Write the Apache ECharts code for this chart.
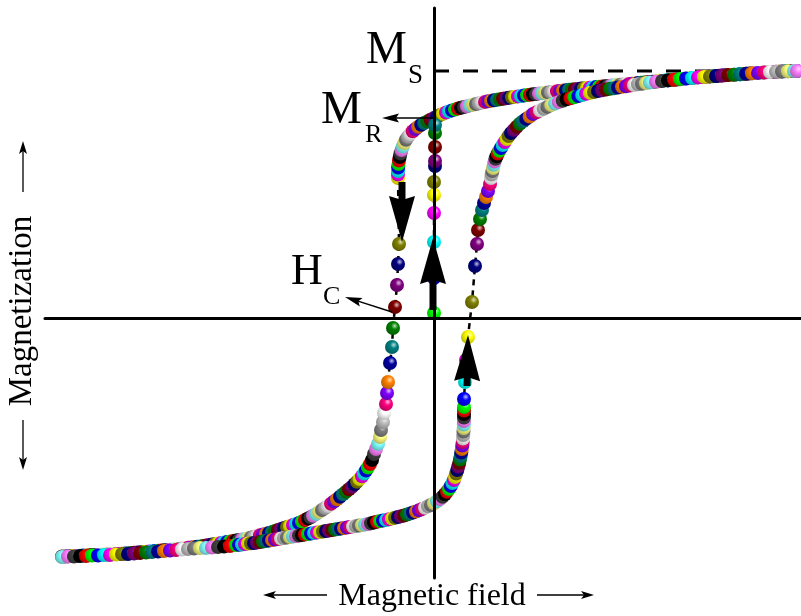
<!DOCTYPE html>
<html><head><meta charset="utf-8">
<script src="https://cdn.jsdelivr.net/npm/echarts@6/dist/echarts.min.js"></script>
<style>html,body{margin:0;padding:0;background:#fff}#c{width:801px;height:616px}</style>
</head><body><div id="c"></div>
<script>
// Hysteresis loop (field units, magnetization units). Ms level = 247.
// Descending branch, listed by increasing H (from the -Ms end to the +Ms end)
const descLower = [[-372,-238.5],[-369,-238.5],[-366,-238.3],[-363,-238],[-360,-238],[-357,-237.9],[-354,-237.8],[-351,-237.5],[-348,-237.4],[-345,-237.3],[-342,-237.1],[-339,-237],[-336,-236.9],[-333,-236.8],[-330,-236.6],[-327,-236.5],[-324,-236.3],[-321,-236.2],[-318,-236.1],[-315,-236],[-312,-235.7],[-309,-235.5],[-306,-235.3],[-303,-235],[-300,-234.8],[-297,-234.5],[-294,-234.3],[-291,-234],[-288,-233.8],[-285,-233.5],[-282,-233.3],[-279,-233],[-276,-232.8],[-273,-232.5],[-270,-232.3],[-267,-232],[-264,-231.8],[-261,-231.5],[-258,-231.3],[-255,-231],[-252,-230.5],[-249,-230.1],[-246,-229.8],[-243,-229.5],[-240,-229.1],[-237,-228.8],[-234,-228.4],[-231,-228],[-228,-227.5],[-225,-227],[-222,-226.5],[-219,-226],[-216,-225.5],[-213,-225],[-210,-224.5],[-207,-224],[-204,-223.5],[-201,-223],[-198,-222.5],[-195,-222],[-192,-221.5],[-189,-221],[-186,-220.3],[-183,-219.5],[-180,-218.8],[-177,-218],[-174,-217.3],[-171,-216.5],[-168,-215.8],[-165,-215],[-162,-214],[-159,-213],[-156,-212],[-153,-211],[-150,-210],[-147,-209],[-144,-208],[-141,-207],[-138,-206],[-135,-205],[-132,-203.5],[-129,-202],[-126,-200.5],[-123.5,-199.2],[-121,-197.8],[-118,-196],[-115,-194],[-112,-192],[-109,-190],[-106,-188],[-103,-185.8],[-100,-183.5],[-97,-181.2],[-94,-178.8],[-91,-176.3],[-88,-173.8],[-85,-171.3],[-82,-168.8],[-79.5,-166.3],[-77,-163.7],[-74.5,-161],[-72,-158.3],[-70,-155.5],[-68,-152.5],[-66,-149.5],[-64,-146],[-62,-142],[-60,-136],[-58,-131],[-56,-126],[-54,-119],[-53,-112],[-51,-104]];
const descSteep = [[-50,-95],[-48,-86],[-47,-75],[-46,-64],[-44,-45],[-42,-29],[-41,-10],[-39,11],[-37,33],[-36,54],[-35,74]];
const descUpper = [[-36,140],[-36,143.5],[-36,147],[-35.8,150.5],[-35.5,154],[-35,157.5],[-34.3,161],[-33.5,164.5],[-32.5,168],[-31.2,171.5],[-29.8,175],[-28,178.2],[-26,181.2],[-23.8,184],[-21.3,186.7],[-18.6,189],[-15.8,191.2],[-12.8,193.2],[-9.8,195],[-6.7,196.6],[-3.5,198.2],[0,200],[3,201.4],[6,202.9],[9,204.2],[12,205.5],[15,206.6],[18,207.6],[21,208.5],[24,209.4],[27,210.2],[30,211],[33,211.8],[36,212.6],[39,213.3],[42,214],[45,214.8],[48,215.5],[51,216.1],[54,216.7],[57,217.3],[60,217.8],[63,218.3],[66,218.8],[69,219.3],[72,219.8],[75,220.2],[78,220.7],[81,221.2],[84,221.6],[87,222],[90,222.5],[93,222.9],[96,223.3],[99,223.7],[102,224],[105,224.4],[108,224.8],[111,225.2],[114,225.6],[117,226],[120,226.3],[123,226.7],[126,227.1],[129,227.5],[132,227.8],[135,228.2],[138,228.5],[141,228.8],[144,229.1],[147,229.4],[150,229.7],[153,230],[156,230.3],[159,230.6],[162,230.9],[165,231.2],[168,231.5],[171,231.8],[174,232.1],[177,232.4],[180,232.7],[183,233],[186,233.2],[189,233.4],[192,233.7],[195,234],[198,234.3],[201,234.6],[204,234.9],[207,235.2],[210,235.4],[213,235.7],[216,236],[219,236.3],[222,236.6],[225,236.8],[228,237.1],[231,237.4],[234,237.6],[237,237.9],[240,238.2],[243,238.5],[246,238.8],[249,239.1],[252,239.4],[255,239.7],[258,240],[261,240.3],[264,240.6],[267,240.9],[270,241.1],[273,241.3],[276,241.6],[279,241.8],[282,242],[285,242.2],[288,242.4],[291,242.7],[294,242.9],[297,243.1],[300,243.3],[303,243.6],[306,243.8],[309,244],[312,244.2],[315,244.5],[318,244.7],[321,244.9],[324,245.1],[327,245.3],[330,245.5],[333,245.7],[336,245.9],[339,246.1],[342,246.2],[345,246.4],[348,246.5],[351,246.7],[354,246.8],[357,246.9],[360,247],[363,247]];
// Ascending branch, time order (from -Ms to +Ms)
const ascLower = [[-372,-239],[-366,-238.5],[-360,-238.5],[-354,-238],[-348,-238],[-342,-237.5],[-336,-237.5],[-330,-237],[-324,-237],[-318,-236.5],[-312,-236],[-306,-236],[-300,-235.5],[-294,-235],[-288,-234.5],[-282,-234],[-276,-233.5],[-270,-233],[-264,-232.5],[-258,-232],[-252,-231.5],[-246,-231],[-240,-230.5],[-234,-230],[-228,-230],[-222,-229.5],[-216,-229],[-210,-228.5],[-204,-228],[-198,-227],[-195,-226.8],[-192,-226.5],[-189,-226],[-186,-225.5],[-183,-225.2],[-180,-225],[-177,-224.5],[-174,-224],[-171,-223.5],[-168,-223],[-165,-222.5],[-162,-222],[-159,-221.5],[-156,-221],[-153,-220.5],[-150,-220],[-147,-219.5],[-144,-219],[-141,-218.5],[-138,-218],[-135,-217.5],[-132,-217],[-129,-216.5],[-126,-216],[-123,-215.5],[-120,-215],[-117,-214.5],[-114,-214],[-111,-213.5],[-108,-213],[-105,-212.5],[-102,-212],[-99,-211.5],[-96,-211],[-93,-210.5],[-90,-210],[-87,-209.5],[-84,-209],[-81,-208.5],[-78,-208],[-75,-207.5],[-72,-207],[-69,-206.5],[-66,-206],[-63,-205.3],[-60,-204.5],[-57,-203.8],[-54,-203],[-51,-202.5],[-48,-202],[-45,-201.3],[-42,-200.5],[-39,-199.8],[-36,-199],[-33,-198.3],[-30,-197.5],[-27,-196.5],[-24,-195.5],[-21,-194.5],[-18,-193.5],[-15,-192.3],[-12,-191.1],[-9,-189.8],[-6,-188.3],[-3,-187],[0,-185.2],[3,-183.3],[6,-181],[8.5,-178.8],[11,-176.3],[13,-173.7],[15,-171],[16.8,-168],[18.4,-165],[19.8,-162],[21,-159],[22.2,-155.5],[23.3,-152],[24.3,-148.5],[25.2,-145],[26,-141.5],[26.7,-138],[27.3,-134.5],[27.8,-131],[28.3,-127.5],[28.7,-124],[29,-120.5],[29.3,-117],[29.5,-113.5],[29.7,-110],[29.9,-106.5],[30,-103],[30,-99.5],[30,-96],[30,-92.5],[30,-89]];
const ascSteep = [[30,-81],[31,-64],[32,-42],[34,-19],[38,16],[41,52],[43,74],[44,88],[46,99],[48,108],[50,115],[52,121],[54,127],[56,134]];
const ascUpper = [[57,140],[57.7,143.5],[58.4,147],[59,150],[59.8,153.2],[60.6,156.4],[61.5,159.2],[62.6,161.7],[63.8,164.5],[65.3,167.2],[66.9,170],[68.7,173],[70.6,175.9],[72.6,178.9],[74.6,181.9],[77,185],[79.8,188],[82.8,191.2],[85.8,194.3],[89,196.8],[92.2,199.1],[95.6,201.4],[99,204],[102.5,205.8],[106,207.5],[109.7,209.3],[113.4,211.1],[117.2,212.9],[121,214.4],[124.8,215.9],[128.7,217.3],[132.6,218.8],[136.5,219.8],[140.4,220.8],[144.3,221.9],[148.2,223],[152.1,224.2],[156,225.1],[160,226],[164,227],[168,227.8],[172,228.5],[176,229.2],[180,229.8],[184,230.5],[188,231.2],[192,231.8],[196,232.4],[200,233],[204,233.7],[208,234.3],[212,234.9],[216,235.5],[222,236.3],[228,237],[234,237.7],[240,238.3],[246,238.9],[252,239.5],[258,240],[264,240.6],[270,241.1],[276,241.6],[282,242],[288,242.4],[294,242.9],[300,243.3],[306,243.8],[312,244.2],[318,244.7],[324,245.1],[330,245.5],[336,245.9],[342,246.2],[348,246.5],[354,246.8],[360,247],[363,247]];
// Initial rise along the M axis
const initialCurve = [[0,5],[0,40],[0,76],[0,105],[0,123],[0,136],[1,152],[1,157],[1,171],[1,185],[1,193]];
// Saturation level reference line
const msLevel = [[0,247],[350,247]];
// Direction arrows on the loop: [fromH, fromM, toH, toM]
const bigArrows = [[-32,136,-32,76],[-1,8,-1,80],[33,-68,34,-17]];
// Pointer arrows for M_R and H_C: [fromH, fromM, toH, toM]
const pointerArrows = [[-1,200,-52,200],[-42,6,-89,21]];

const palette = ['#000000','#ff0000','#00ff00','#0000ff','#00ffff','#ff00ff','#ffff00','#808000','#000080','#800080','#800000','#008000','#008080','#0000a0','#ff8000','#8000ff','#ff0080','#ffffff','#c0c0c0','#808080','#ffff80','#80ffff','#ff80ff','#404040'];

function mix(hex, target, t) {
  const a = [1,3,5].map(k => parseInt(hex.slice(k,k+2),16));
  const b = [1,3,5].map(k => parseInt(target.slice(k,k+2),16));
  return 'rgb(' + a.map((v,i) => Math.round(v + (b[i]-v)*t)).join(',') + ')';
}
function ball(c) {
  return {type:'radial', x:0.62, y:0.35, r:0.7, colorStops:[
    {offset:0, color: mix(c,'#ffffff',0.75)},
    {offset:0.35, color: c},
    {offset:1, color: mix(c,'#000000',0.3)}]};
}
function items(points, colorAt) {
  return points.map((p,i) => ({value:p, itemStyle:{color: ball(palette[((colorAt(i)%24)+24)%24])}}));
}
const descAll = descLower.concat(descSteep, descUpper);
const iOlive = descLower.length + descSteep.length - 1;
const ascAll = ascLower.concat(ascSteep, ascUpper);
const iBlue = ascLower.length;

const loopStyle = {
  type:'line', symbol:'circle', symbolSize:14, showSymbol:true, showAllSymbol:true,
  lineStyle:{color:'#000', width:2.5, type:[6,5]}, emphasis:{disabled:true}, silent:true, clip:false
};
const arrowStyles = [{head:46, half:13, notch:4, lw:7}, {head:17, half:4.5, notch:3, lw:1.5}];
function renderArrow(params, api) {
  const p1 = api.coord([api.value(0), api.value(1)]);
  const p2 = api.coord([api.value(2), api.value(3)]);
  const st = arrowStyles[api.value(4)];
  const dx = p2[0]-p1[0], dy = p2[1]-p1[1];
  const len = Math.hypot(dx,dy);
  const ux = dx/len, uy = dy/len, nx = -uy, ny = ux;
  const bx = p2[0]-ux*st.head, by = p2[1]-uy*st.head;
  const mx = bx+ux*st.notch, my = by+uy*st.notch;
  return {type:'group', children:[
    {type:'line', shape:{x1:p1[0], y1:p1[1], x2:mx+ux*2, y2:my+uy*2}, style:{stroke:'#000', lineWidth:st.lw}},
    {type:'polygon', shape:{points:[[p2[0],p2[1]],[bx+nx*st.half,by+ny*st.half],[mx,my],[bx-nx*st.half,by-ny*st.half]]}, style:{fill:'#000'}}
  ]};
}
const arrowData = bigArrows.map(a => a.concat([0])).concat(pointerArrows.map(a => a.concat([1])));

const serif = '"Liberation Serif","Times New Roman",serif';
function txt(t, x, y, size, align, rot) {
  return {type:'text', x:x, y:y, rotation:rot||0, z:20,
    style:{text:t, font: size+'px '+serif, fill:'#000', align:align||'left', verticalAlign:'middle', textAlign:align||'left', textVerticalAlign:'middle'}};
}
function gArrow(x1,y1,x2,y2) {
  const dx=x2-x1, dy=y2-y1, L=Math.hypot(dx,dy), ux=dx/L, uy=dy/L, nx=-uy, ny=ux;
  const h=13, w=4, bx=x2-ux*h, by=y2-uy*h, mx=bx+ux*3, my=by+uy*3;
  return [
    {type:'line', z:20, shape:{x1:x1,y1:y1,x2:mx,y2:my}, style:{stroke:'#000', lineWidth:1.3}},
    {type:'polygon', z:20, shape:{points:[[x2,y2],[bx+nx*w,by+ny*w],[mx,my],[bx-nx*w,by-ny*w]]}, style:{fill:'#000'}}
  ];
}

const chart = echarts.init(document.getElementById('c'), null, {renderer:'canvas'});
chart.setOption({
  animation:false,
  backgroundColor:'#fff',
  grid:{left:45, right:0, top:8, bottom:38, containLabel:false, outerBoundsMode:'none'},
  xAxis:{type:'value', min:-389, max:367, z:5,
    axisLine:{show:true, onZero:true, lineStyle:{color:'#000', width:3}},
    axisTick:{show:false}, axisLabel:{show:false}, splitLine:{show:false}},
  yAxis:{type:'value', min:-260, max:310, z:5,
    axisLine:{show:true, onZero:true, lineStyle:{color:'#000', width:3}},
    axisTick:{show:false}, axisLabel:{show:false}, splitLine:{show:false}},
  series:[
    {type:'line', data:msLevel, symbol:'none', z:1, silent:true, lineStyle:{color:'#000', width:3, type:[15,14]}},
    Object.assign({}, loopStyle, {z:2, data: items(descAll, i => 7 - (i - iOlive))}),
    Object.assign({}, loopStyle, {z:3, data: items(ascAll, i => 3 + (i - iBlue))}),
    Object.assign({}, loopStyle, {z:3, data: items(initialCurve, i => 2 + i)}),
    {type:'custom', z:8, silent:true, renderItem: renderArrow, data: arrowData, clip:false}
  ],
  graphic:[
    txt('Magnetic field', 432, 597, 32, 'center'),
    ...gArrow(327,595,263,595), ...gArrow(537,595,594,595),
    txt('Magnetization', 22, 311, 33, 'center', Math.PI/2),
    ...gArrow(23,192,23,141), ...gArrow(23,420,23,470),
    txt('M', 366, 51, 46), txt('S', 408, 76, 27),
    txt('M', 321, 111, 46), txt('R', 365, 135, 26),
    txt('H', 291, 272, 44), txt('C', 323, 297, 26)
  ]
});
</script></body></html>
